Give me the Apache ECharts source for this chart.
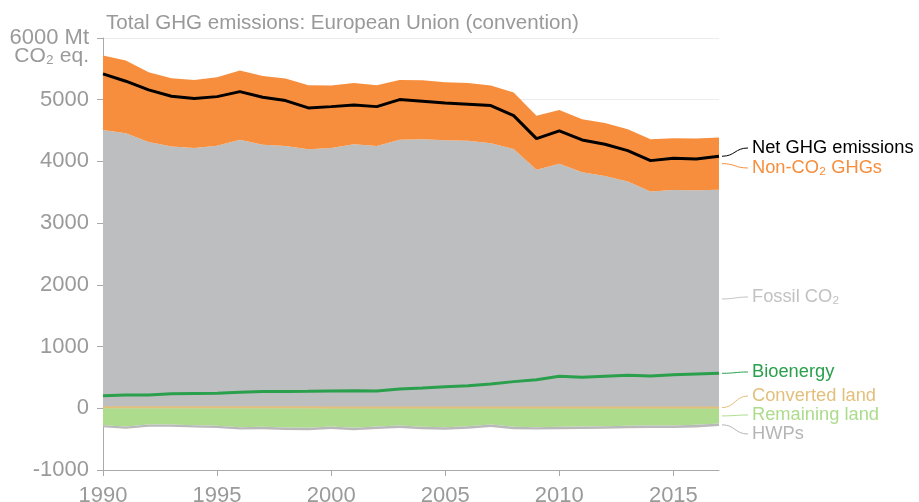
<!DOCTYPE html>
<html>
<head>
<meta charset="utf-8">
<script src="https://cdn.jsdelivr.net/npm/echarts@6/dist/echarts.min.js"></script>
<style>
  html, body { margin: 0; padding: 0; background: #fff; }
  #chart { width: 919px; height: 502px; }
</style>
</head>
<body>
<div id="chart"></div>
<script>
  const years = []
  for (let y = 1990; y <= 2017; y++) years.push(String(y))

  // Mt CO2 eq.
  const fossilCO2 = [4510, 4457, 4316, 4240, 4219, 4256, 4353, 4272, 4251, 4198, 4219, 4279, 4251, 4353,
    4360, 4343, 4337, 4295, 4203, 3867, 3964, 3825, 3765, 3673, 3511, 3538, 3533, 3543]
  const nonCO2 = [1205, 1177, 1130, 1108, 1102, 1109, 1119, 1114, 1091, 1037, 1010, 993, 984, 968,
    956, 941, 935, 934, 912, 875, 871, 859, 859, 849, 849, 838, 837, 843]
  const remainingLand = [-273, -295, -263, -263, -273, -284, -306, -300, -311, -317, -295, -317, -295, -279,
    -300, -306, -290, -263, -300, -306, -300, -295, -290, -284, -279, -279, -268, -247]
  const hwps = [-35, -35, -36, -36, -37, -37, -38, -38, -39, -39, -40, -40, -40, -41,
    -41, -42, -42, -42, -40, -38, -39, -40, -40, -41, -41, -42, -42, -42]
  const convertedLand = [18, 18, 17, 17, 16, 16, 16, 15, 15, 15, 14, 14, 14, 14,
    13, 13, 13, 13, 12, 12, 12, 12, 12, 11, 11, 11, 11, 11]
  const bioenergy = [205, 215, 215, 237, 240, 243, 259, 270, 270, 275, 281, 286, 281, 313,
    329, 350, 367, 394, 432, 464, 518, 502, 518, 534, 523, 545, 556, 567]
  const netGHG = [5418, 5300, 5159, 5057, 5018, 5050, 5131, 5040, 4986, 4867, 4888, 4916, 4888, 5002,
    4976, 4948, 4927, 4905, 4742, 4370, 4494, 4348, 4279, 4175, 4013, 4052, 4041, 4084]

  const font = 'Liberation Sans, Helvetica, Arial, sans-serif'
  const axisGrey = '#9a9a9a'
  const c = {
    fossil: '#bdbec0',
    nonco2: '#f68e3e',
    remaining: '#acdc8c',
    hwp: '#b9b9b9',
    converted: '#e2c07c',
    bio: '#2a9f4c',
    net: '#000000'
  }

  const showEvery5 = (idx) => Number(years[idx]) % 5 === 0

  const area = (name, data, stack, color) => ({
    name, type: 'line', data, stack, symbol: 'none', silent: true,
    lineStyle: { width: 0 },
    areaStyle: { color, opacity: 1 },
    itemStyle: { color }
  })
  const line = (name, data, color, width) => ({
    name, type: 'line', data, symbol: 'none', silent: true,
    lineStyle: { width, color },
    itemStyle: { color }
  })

  const option = {
    animation: false,
    title: {
      text: 'Total GHG emissions: European Union (convention)',
      left: 101, top: 8,
      textStyle: { fontFamily: font, fontSize: 20.6, fontWeight: 'normal', color: '#999' }
    },
    // x labels run off the bottom edge in the original, so don't let the grid shrink
    grid: { left: 103, right: 200, top: 38, bottom: 32, outerBoundsMode: 'none' },
    xAxis: {
      type: 'category',
      data: years,
      boundaryGap: false,
      axisLine: { onZero: false, lineStyle: { color: '#aaa', width: 1 } },
      axisTick: { interval: showEvery5, length: 6, lineStyle: { color: '#aaa' } },
      axisLabel: { interval: showEvery5, margin: 15, fontFamily: font, fontSize: 22, color: axisGrey },
      splitLine: { show: false }
    },
    yAxis: {
      type: 'value',
      min: -1000, max: 6000, interval: 1000,
      axisLine: { show: true, lineStyle: { color: '#aaa', width: 1 } },
      axisTick: { show: true, length: 6, lineStyle: { color: '#aaa' } },
      axisLabel: {
        margin: 14, fontFamily: font, fontSize: 22, color: axisGrey,
        formatter: (v) => v === 6000 ? '6000 Mt' : String(v)
      },
      splitLine: { lineStyle: { color: '#ececec', width: 1 } }
    },
    series: [
      area('Fossil CO₂', fossilCO2, 'pos', c.fossil),
      area('Non-CO₂ GHGs', nonCO2, 'pos', c.nonco2),
      area('Remaining land', remainingLand, 'neg', c.remaining),
      area('HWPs', hwps, 'neg', c.hwp),
      line('Converted land', convertedLand, c.converted, 2),
      line('Bioenergy', bioenergy, c.bio, 3),
      line('Net GHG emissions', netGHG, c.net, 3)
    ]
  }

  const chart = echarts.init(document.getElementById('chart'))
  chart.setOption(option)

  // labels at the right end, with curved leader lines
  const last = years.length - 1
  const px = (v) => chart.convertToPixel({ gridIndex: 0 }, [last, v])
  const fTop = fossilCO2[last]
  const oTop = fTop + nonCO2[last]
  const rBot = remainingLand[last]
  const hBot = rBot + hwps[last]
  const labels = [
    { text: 'Net GHG emissions', color: '#000', from: netGHG[last], y: 148 },
    { text: 'Non-CO₂ GHGs', color: c.nonco2, from: (fTop + oTop) / 2, y: 168 },
    { text: 'Fossil CO₂', color: '#c2c2c2', from: fTop / 2, y: 297 },
    { text: 'Bioenergy', color: c.bio, from: bioenergy[last], y: 372 },
    { text: 'Converted land', color: c.converted, from: convertedLand[last], y: 396 },
    { text: 'Remaining land', color: c.remaining, from: rBot / 2, y: 415 },
    { text: 'HWPs', color: '#b5b5b5', from: (rBot + hBot) / 2, y: 434 }
  ]
  const graphic = []
  labels.forEach((l) => {
    const p = px(l.from)
    const x0 = p[0] + 3, y0 = p[1], x1 = 748, y1 = l.y
    graphic.push({
      type: 'bezierCurve', silent: true,
      shape: { x1: x0, y1: y0, cpx1: (x0 + x1) / 2, cpy1: y0, cpx2: (x0 + x1) / 2, cpy2: y1, x2: x1, y2: y1 },
      style: { stroke: l.color, lineWidth: 1, fill: null }
    })
    graphic.push({
      type: 'text', silent: true, x: 752, y: l.y,
      style: { text: l.text, fill: l.color, font: '18.3px ' + font, verticalAlign: 'middle' }
    })
  })
  // second line of the unit under "6000 Mt"
  graphic.push({
    type: 'text', silent: true, x: 89, y: 56,
    style: { text: 'CO₂ eq.', fill: axisGrey, font: '21px ' + font, align: 'right', verticalAlign: 'middle' }
  })
  chart.setOption({ graphic })
</script>
</body>
</html>
